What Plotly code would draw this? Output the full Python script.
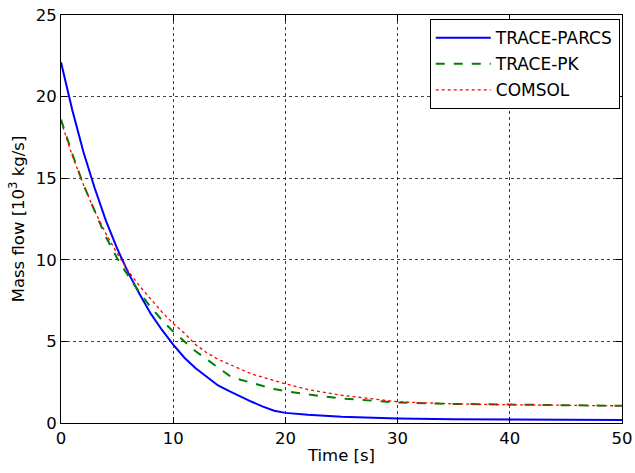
import plotly.graph_objects as go

time = [0, 1, 2, 3, 4, 5, 6, 7, 8, 9, 10, 11, 12, 13, 14, 15, 16, 17, 18, 19, 20, 22, 25, 30, 35, 40, 45, 50]
trace_parcs = [22.1, 19.2, 16.6, 14.4, 12.4, 10.7, 9.2, 7.9, 6.7, 5.7, 4.8, 4.0, 3.35, 2.8, 2.3, 1.95,
               1.6, 1.3, 1.0, 0.75, 0.62, 0.5, 0.38, 0.27, 0.23, 0.21, 0.2, 0.19]
trace_pk = [18.6, 16.5, 14.6, 13.0, 11.4, 10.1, 9.0, 8.0, 7.1, 6.3, 5.6, 5.0, 4.4, 3.9, 3.4, 2.9,
            2.65, 2.45, 2.25, 2.08, 1.95, 1.75, 1.5, 1.26, 1.17, 1.12, 1.08, 1.05]
comsol = [18.5, 16.4, 14.6, 13.0, 11.6, 10.4, 9.3, 8.4, 7.6, 6.8, 6.1, 5.5, 4.8, 4.3, 3.9, 3.6,
          3.3, 3.0, 2.8, 2.6, 2.4, 2.05, 1.7, 1.3, 1.17, 1.12, 1.08, 1.05]

x_ticks = [0, 10, 20, 30, 40, 50]
y_ticks = [0, 5, 10, 15, 20, 25]

fig = go.Figure()
fig.add_trace(go.Scatter(x=time, y=trace_parcs, mode="lines", name="TRACE-PARCS", legendgroup="a",
                         line=dict(color="#0000ff", width=2)))
fig.add_trace(go.Scatter(x=time, y=trace_pk, mode="lines", name="TRACE-PK", legendgroup="b",
                         line=dict(color="#008000", width=2, dash="dash")))
fig.add_trace(go.Scatter(x=time, y=comsol, mode="lines", name="COMSOL", legendgroup="c",
                         line=dict(color="#ff0000", width=1.3, dash="dot")))

axis_common = dict(
    showline=True, linecolor="black", linewidth=1, mirror="ticks",
    ticks="inside", ticklen=6, tickcolor="black",
    showgrid=True, gridcolor="rgba(0,0,0,0.75)", griddash="dot", gridwidth=1,
    zeroline=False, tickfont=dict(size=16.5, color="black"), automargin=False,
)

fig.update_layout(
    width=635, height=473,
    margin=dict(l=61, r=13, t=15, b=50),
    paper_bgcolor="white", plot_bgcolor="white",
    font=dict(family="DejaVu Sans", size=16.5, color="black"),
    xaxis=dict(range=[0, 50], tickvals=x_ticks,
               title=dict(text="Time [s]", standoff=2, font=dict(size=16.5)), **axis_common),
    yaxis=dict(range=[0, 25], tickvals=y_ticks,
               title=dict(text="Mass flow [10<sup>3</sup> kg/s]", standoff=6, font=dict(size=16.5)), **axis_common),
    legend=dict(x=0.996, y=0.99, xanchor="right", yanchor="top",
                bordercolor="black", borderwidth=1, bgcolor="white",
                font=dict(size=17), traceorder="grouped", tracegroupgap=1, itemwidth=55),
    showlegend=True,
)

fig.write_html("out.html")
